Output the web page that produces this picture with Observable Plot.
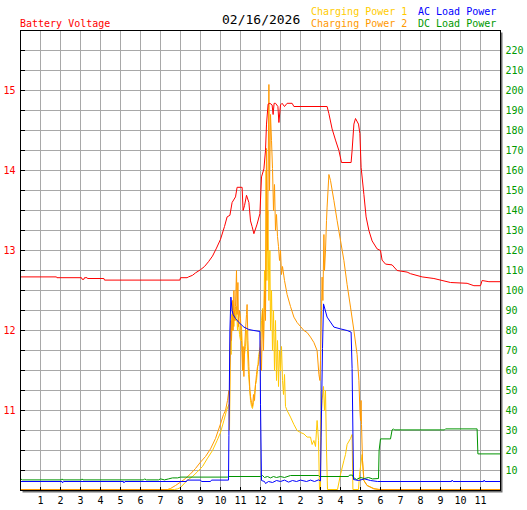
<!DOCTYPE html>
<html>
<head>
<meta charset="utf-8">
<script src="https://cdn.jsdelivr.net/npm/d3@7"></script>
<script src="https://cdn.jsdelivr.net/npm/@observablehq/plot@0.6"></script>
<style>
  html, body { margin: 0; padding: 0; background: #fff; }
  #wrap { position: relative; width: 527px; height: 510px; }
  .t { position: absolute; font-family: "DejaVu Sans Mono", monospace; font-size: 10px; line-height: 10px; white-space: pre; }
</style>
</head>
<body>
<div id="wrap">
  <div class="t" style="left:20px;top:18.5px;color:#ff0000">Battery Voltage</div>
  <div class="t" style="left:222px;top:13px;font-size:13px;line-height:13px;color:#000">02/16/2026</div>
  <div class="t" style="left:311px;top:6.5px;color:#ffcc00">Charging Power 1</div>
  <div class="t" style="left:311px;top:18.5px;color:#ff9900">Charging Power 2</div>
  <div class="t" style="left:418px;top:6.5px;color:#0000ff">AC Load Power</div>
  <div class="t" style="left:418px;top:18.5px;color:#009900">DC Load Power</div>
</div>
<script>
// ---- tick labels ----
const hourTicks = d3.range(1, 24);
const hourLabels = ["1","2","3","4","5","6","7","8","9","10","11","12","1","2","3","4","5","6","7","8","9","10","11"];
const powerTicks = d3.range(10, 230, 10);
const voltTicks = [11, 12, 13, 14, 15];

// ---- series: [hour, value] ----
const voltage = [
  [0,12.67],[1.8,12.67],[1.82,12.66],[3.05,12.66],[3.08,12.64],[3.17,12.64],[3.2,12.66],[3.33,12.66],[3.35,12.65],
  [4.17,12.65],[4.2,12.63],[7.97,12.63],[8.0,12.66],[8.33,12.66],[8.4,12.67],[8.6,12.69],[8.75,12.72],[9.0,12.76],
  [9.2,12.8],[9.4,12.86],[9.6,12.93],[9.8,13.03],[10.0,13.14],[10.2,13.3],[10.33,13.42],[10.47,13.44],[10.58,13.6],
  [10.75,13.67],[10.83,13.79],[11.08,13.79],[11.13,13.5],[11.2,13.56],[11.3,13.69],[11.42,13.6],[11.5,13.37],
  [11.58,13.3],[11.67,13.21],[11.83,13.33],[11.97,13.46],[12.05,13.92],[12.17,14.02],[12.25,14.25],[12.3,14.58],
  [12.38,14.83],[12.47,14.84],[12.58,14.82],[12.63,14.7],[12.68,14.84],[12.75,14.84],[12.87,14.8],[12.92,14.6],
  [13.0,14.82],[13.08,14.84],[13.2,14.8],[13.33,14.84],[13.58,14.84],[13.67,14.8],[15.33,14.8],[15.42,14.71],
  [15.58,14.52],[15.75,14.38],[15.92,14.25],[16.05,14.1],[16.53,14.1],[16.58,14.25],[16.67,14.58],[16.75,14.65],
  [16.9,14.58],[16.97,14.46],[17.03,14.04],[17.17,13.7],[17.28,13.42],[17.42,13.25],[17.58,13.12],[17.83,13.02],
  [18.0,13.0],[18.08,12.88],[18.25,12.83],[18.58,12.82],[18.83,12.75],[19.33,12.73],[19.5,12.71],[20.08,12.67],
  [20.67,12.65],[21.5,12.6],[22.33,12.59],[22.67,12.56],[23.0,12.56],[23.08,12.625],[23.42,12.61],[24,12.61]
];

const charging1 = [
  [0,0.5],[7.7,0.5],[7.85,0.8],[8.0,1.5],[8.33,5],[8.6,7],[8.83,9.2],[9.1,12],[9.33,15.8],[9.6,20],[9.83,25],
  [10.0,29],[10.17,35],[10.3,40],[10.42,43],[10.45,30],[10.48,60],[10.5,75],[10.53,68],[10.57,88],[10.6,80],
  [10.63,93],[10.67,82],[10.7,90],[10.75,85],[10.8,92],[10.85,80],[10.9,86],[10.95,78],[11.0,75],[11.05,82],
  [11.1,70],[11.15,60],[11.2,68],[11.25,72],[11.3,80],[11.35,70],[11.4,58],[11.45,52],[11.5,45],[11.55,42],
  [11.6,41],[11.65,44],[11.7,48],[11.75,53],[11.8,55],[11.85,60],[11.9,67],[11.95,70],[12.0,72],[12.05,85],
  [12.1,91],[12.15,75],[12.2,110],[12.25,90],[12.28,160],[12.32,105],[12.37,140],[12.42,95],[12.47,120],
  [12.5,80],[12.55,100],[12.6,70],[12.65,90],[12.7,60],[12.75,85],[12.8,55],[12.85,75],[12.9,52],[12.95,70],
  [13.0,60],[13.05,72],[13.1,55],[13.15,48],[13.2,58],[13.25,42],[13.33,40],[13.5,36.7],[13.67,33],[13.83,30],
  [14.0,29],[14.17,28.3],[14.33,26.7],[14.5,26.7],[14.58,23],[14.67,25],[14.75,22],[14.83,35],[14.9,25],
  [14.95,0.5],[15.0,0.5],[15.02,35],[15.08,45],[15.15,52],[15.2,40],[15.25,50],[15.3,20],[15.35,0.5],[15.85,0.5],
  [16.0,8],[16.17,15],[16.25,18],[16.33,23],[16.5,26],[16.58,28],[16.62,0.5],[16.9,0.5],[16.95,8],[17.08,18],
  [17.17,5],[17.33,2.5],[17.67,1],[17.9,0.5],[24,0.5]
];

const charging2 = [
  [0,0.5],[7.35,0.5],[7.5,1],[7.75,2.5],[8.0,4.2],[8.25,6],[8.5,8.3],[8.75,11],[9.0,14.2],[9.25,17],[9.5,20.8],
  [9.75,26],[10.0,33.3],[10.15,38],[10.25,40],[10.35,45],[10.42,50],[10.45,40],[10.48,70],[10.52,85],[10.55,75],
  [10.6,95],[10.63,80],[10.67,100],[10.7,85],[10.75,92],[10.8,110],[10.83,88],[10.87,104],[10.9,82],[10.95,90],
  [11.0,86],[11.05,75],[11.1,60],[11.13,72],[11.17,57],[11.2,70],[11.25,80],[11.3,88],[11.33,93],[11.37,75],
  [11.42,62],[11.47,50],[11.5,47],[11.55,44],[11.6,42],[11.65,48],[11.7,45],[11.75,53],[11.8,58],[11.85,62],
  [11.9,63],[11.95,68],[12.0,75],[12.05,60],[12.1,90],[12.15,70],[12.2,100],[12.25,85],[12.3,171],[12.35,120],
  [12.42,203],[12.45,150],[12.5,188],[12.55,175],[12.6,161],[12.65,140],[12.7,153],[12.75,130],[12.8,138],
  [12.85,127],[12.9,122],[12.95,115],[13.0,120],[13.05,108],[13.1,112],[13.2,105],[13.33,98],[13.5,92],
  [13.67,86.7],[13.83,84],[14.0,82],[14.17,80],[14.33,79],[14.5,76.7],[14.67,74],[14.83,70],[14.92,58],
  [14.97,55],[15.0,65],[15.05,90],[15.08,106.7],[15.12,95],[15.17,128],[15.2,110],[15.25,120],[15.3,135],
  [15.33,141.7],[15.42,158],[15.5,155],[15.67,145],[15.83,135],[16.0,125],[16.17,115],[16.33,103],[16.5,91.7],
  [16.67,80],[16.83,68],[16.92,55],[16.97,40],[17.0,35],[17.03,45],[17.05,33],[17.1,15],[17.17,5],[17.33,2.5],
  [17.67,0.8],[18.0,0.5],[24,0.5]
];

const acLoad = [
  [0,4.5],[2.08,4.5],[2.1,3.8],[2.15,4.5],[5.15,4.5],[5.17,3.8],[5.22,4.5],[8.3,4.5],[8.33,5.2],[9.0,5.2],
  [9.05,4.5],[9.5,4.5],[9.55,5.2],[10.4,5.2],[10.42,27.5],[10.47,80],[10.52,96.7],[10.58,90],[10.63,88],
  [10.75,86],[10.92,84],[11.17,81.7],[11.42,80.5],[11.67,80],[11.97,79.5],[12.0,43],[12.05,5],[12.2,4.5],
  [12.25,3.5],[12.4,4.5],[12.6,4],[12.8,5],[13.0,4.5],[13.2,5.2],[13.4,4.2],[13.6,5],[13.8,4.5],[14.0,5.2],
  [14.3,4.5],[14.5,5.2],[14.7,4.5],[14.9,5.3],[15.0,4.8],[15.03,26.7],[15.1,71],[15.15,93.3],[15.33,86.7],
  [15.67,81.7],[16.0,80.8],[16.33,80],[16.53,79.2],[16.58,61],[16.65,5.5],[16.9,5],[17.2,5.8],[17.5,5],
  [17.85,4.5],[21.55,4.5],[21.58,5.2],[21.63,4.5],[23.15,4.5],[23.18,5.2],[23.22,4.5],[24,4.5]
];

const dcLoad = [
  [0,5.8],[0.1,5.3],[2.05,5.3],[2.08,5.8],[2.12,5.3],[3.05,5.3],[3.08,5.8],[3.12,5.3],[6.15,5.3],[6.2,5.8],
  [6.3,5.3],[6.9,5.3],[7.0,5.8],[7.2,5.3],[7.4,5.8],[7.6,6.3],[7.85,6.3],[8.0,6.7],[10.35,6.7],[10.4,7],
  [12.0,7],[12.1,7.5],[12.2,6.5],[12.35,7],[12.5,6.3],[12.65,7],[12.8,6.5],[13.0,7],[13.2,6.5],[13.5,7.5],
  [14.9,7.5],[14.95,7],[16.4,7],[16.45,7.7],[16.6,7.7],[16.65,6.5],[16.8,5.5],[17.0,6.5],[17.2,6],[17.4,6.5],
  [17.6,5.8],[17.9,6],[17.93,20],[18.0,25.8],[18.5,25.8],[18.58,30.3],[18.65,30.8],[18.7,30.3],[21.2,30.3],
  [21.25,30.8],[22.83,30.8],[22.87,18.3],[24,18.3]
];

const volt = v => (v - 10) * 40; // 1 V = 40 W on the shared scale

const chart = Plot.plot({
  width: 527,
  height: 510,
  marginTop: 30,
  marginLeft: 20,
  marginRight: 27,
  marginBottom: 20,
  x: {domain: [0, 24]},
  y: {domain: [0, 230]},
  style: {fontFamily: "DejaVu Sans Mono, monospace", fontSize: "10px", background: "white"},
  marks: [
    Plot.frame({fill: "#707070", dx: 2, dy: 2}),
    Plot.frame({fill: "white"}),
    Plot.gridX(hourTicks, {stroke: "#a8a8a8", strokeOpacity: 1, shapeRendering: "crispEdges"}),
    Plot.gridY(powerTicks, {stroke: "#a8a8a8", strokeOpacity: 1, shapeRendering: "crispEdges"}),
    Plot.line(charging1, {x: d => d[0], y: d => d[1], stroke: "#ffc800", strokeWidth: 1}),
    Plot.line(charging2, {x: d => d[0], y: d => d[1], stroke: "#ff9900", strokeWidth: 1}),
    Plot.line(dcLoad, {x: d => d[0], y: d => d[1], stroke: "#009400", strokeWidth: 1}),
    Plot.line(acLoad, {x: d => d[0], y: d => d[1], stroke: "#0000ff", strokeWidth: 1}),
    Plot.line(voltage, {x: d => d[0], y: d => volt(d[1]), stroke: "#ff0000", strokeWidth: 1}),
    Plot.frame({stroke: "black", shapeRendering: "crispEdges"}),
    Plot.axisY(powerTicks, {anchor: "left", tickSize: -5, fill: "none", stroke: "black"}),
    Plot.axisY(voltTicks.map(volt), {anchor: "left", tickSize: 0, tickPadding: 5, fill: "#ff0000",
      tickFormat: d => String(Math.round(10 + d / 40)), label: null}),
    Plot.axisY(powerTicks, {anchor: "right", tickSize: 0, tickPadding: 5, fill: "#009900", label: null}),
    Plot.axisX(hourTicks, {anchor: "bottom", tickSize: -3, fill: "none", stroke: "black"}),
    Plot.axisX(hourTicks, {anchor: "bottom", tickSize: 0, tickPadding: 6, fill: "black",
      tickFormat: h => hourLabels[h - 1], label: null})
  ]
});
document.getElementById("wrap").prepend(chart);
chart.style.position = "absolute";
chart.style.left = "0px";
chart.style.top = "0px";
</script>
</body>
</html>
